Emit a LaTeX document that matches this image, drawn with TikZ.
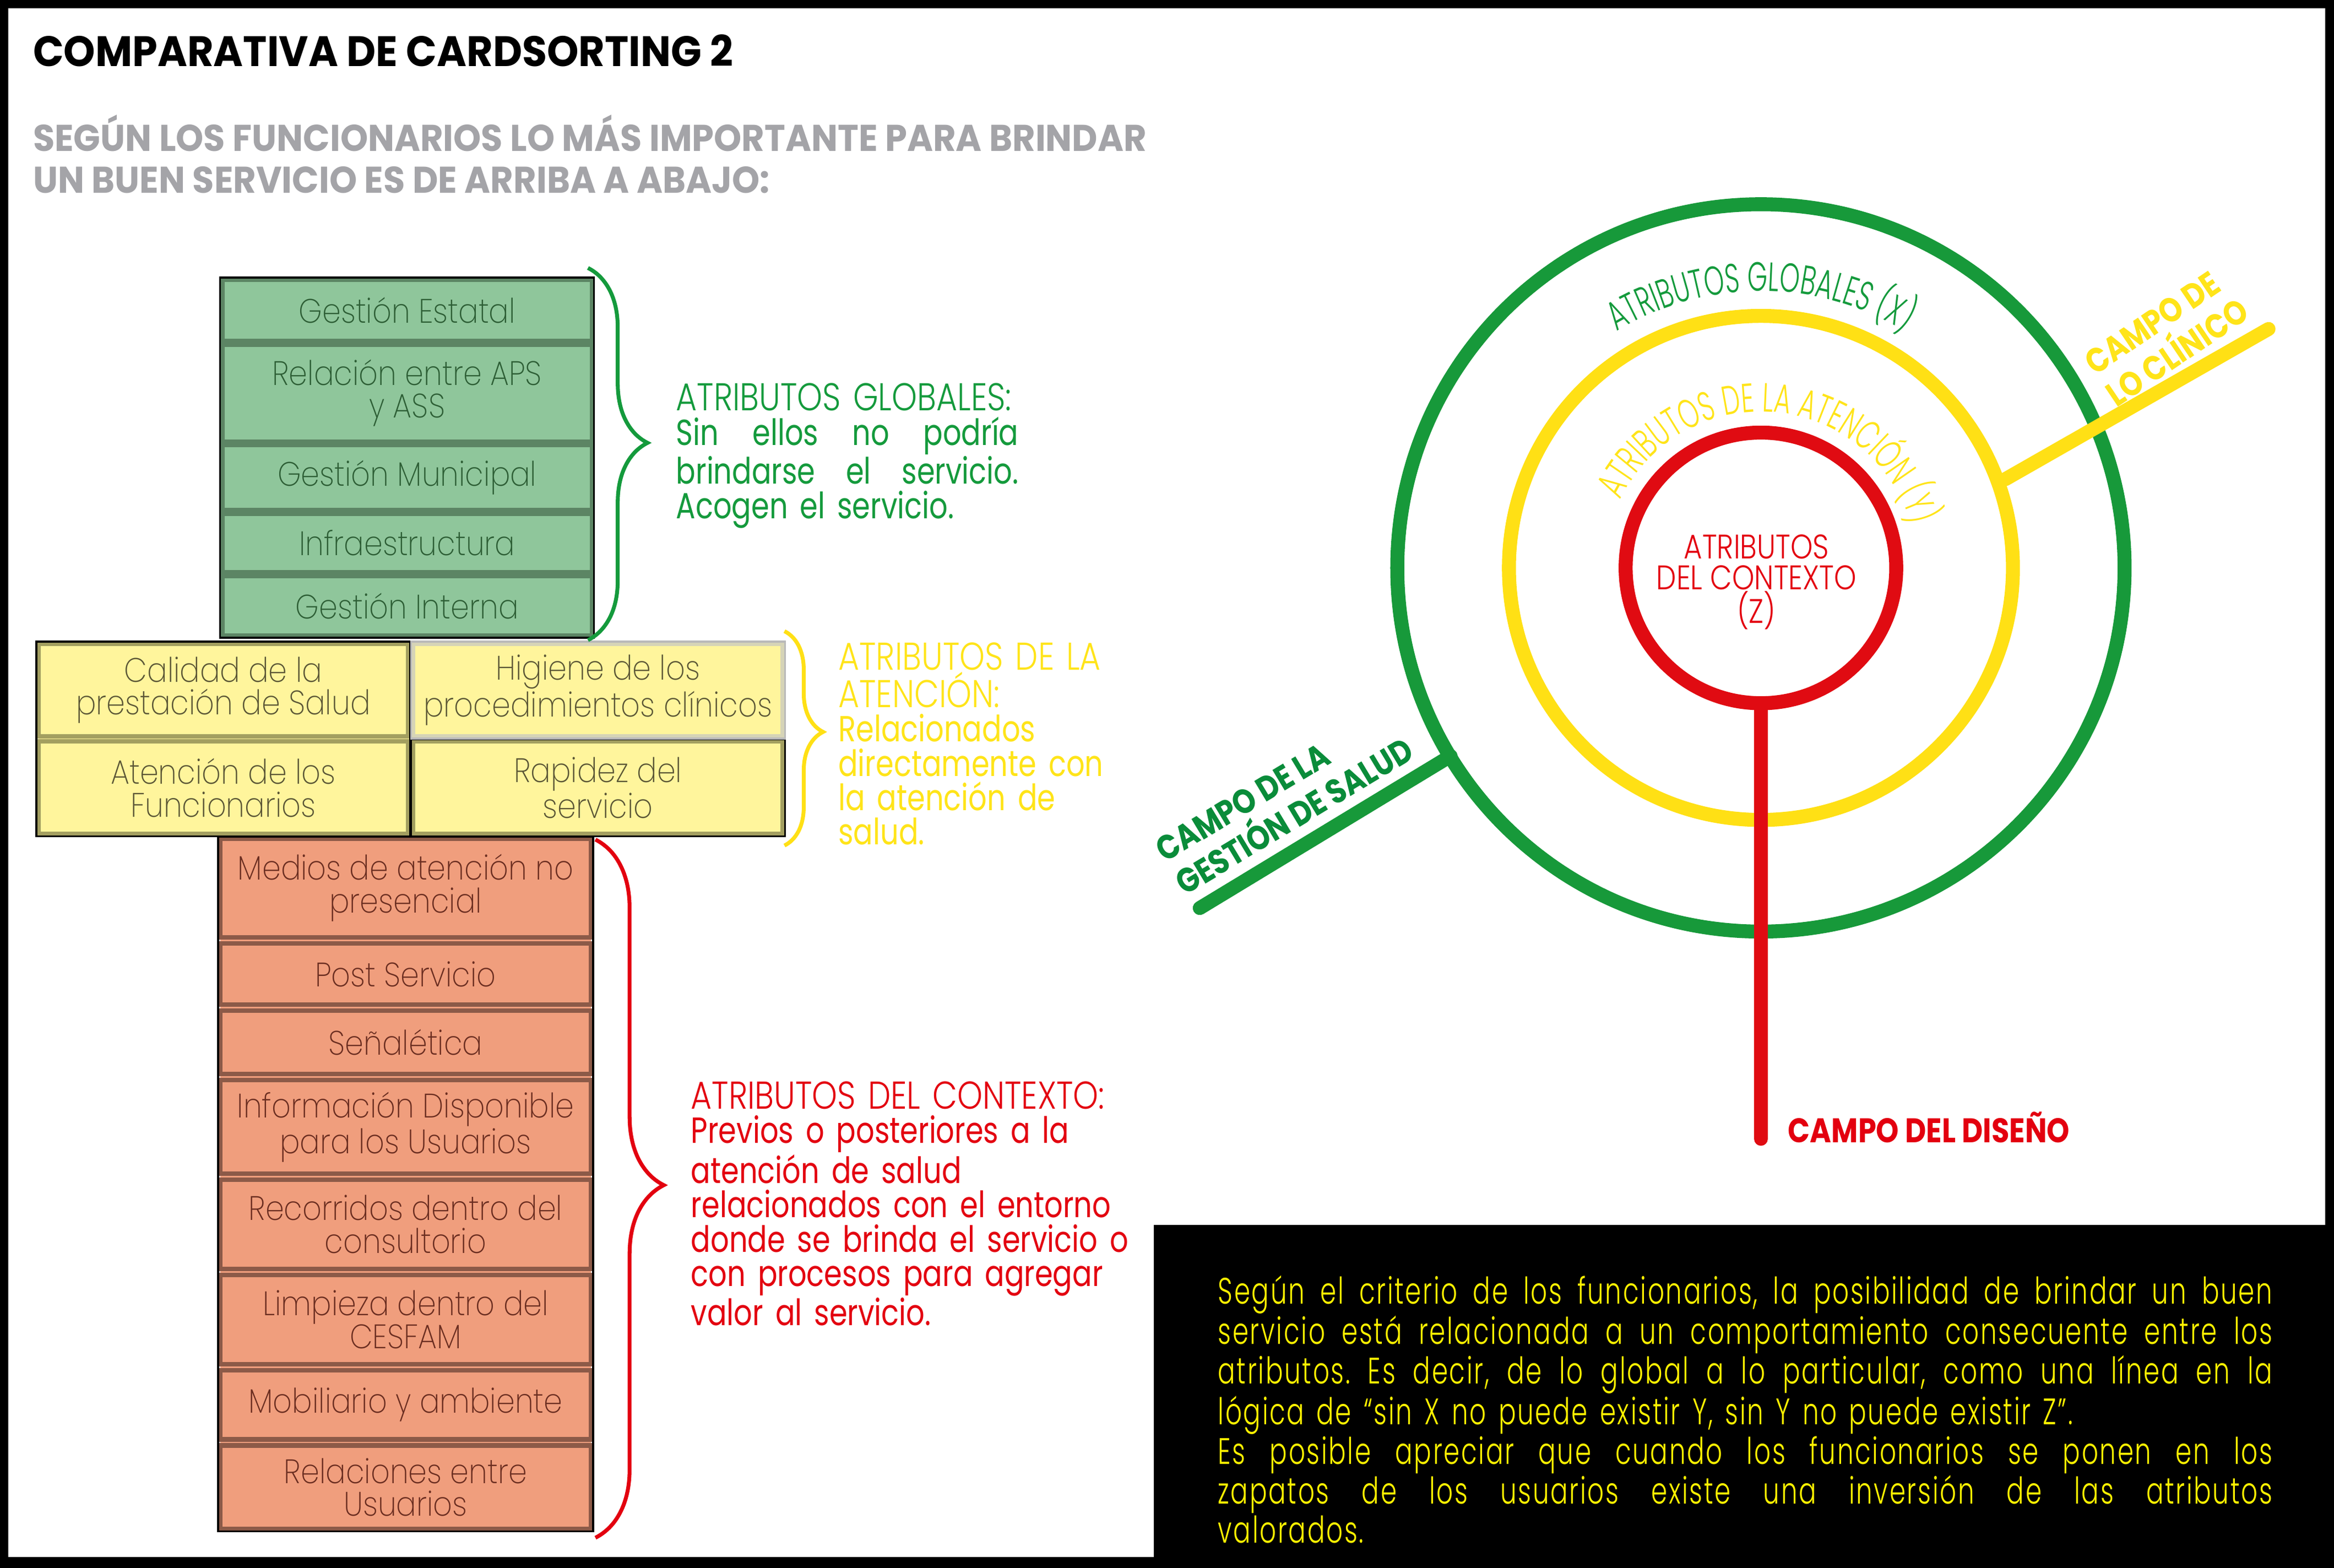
\documentclass[tikz,border=0pt]{standalone}
\usepackage{fontspec}
\setmainfont{Poppins}
\newfontfamily\boxfont{Poppins ExtraLight}[FakeStretch=0.88]
\newfontfamily\headfont{Poppins Light}[FakeStretch=0.83]
\newfontfamily\arcfont{Poppins Light}[FakeStretch=0.63]
\newfontfamily\notefont{Poppins Light}[FakeStretch=0.70, LetterSpace=4.0]
\newfontfamily\bodyfont{Poppins}[FakeStretch=0.8]
\newfontfamily\titlefont{Poppins Bold}[FakeStretch=0.945]
\newfontfamily\campofont{Poppins Bold}[FakeStretch=0.85]
\usepackage{tikz}
\usetikzlibrary{positioning, calc, backgrounds, decorations.pathreplacing, decorations.text}
\definecolor{SubGray}{HTML}{A4A4A8}
\definecolor{GreenFill}{HTML}{8FC69B}
\definecolor{GreenEdge}{HTML}{5C8564}
\definecolor{GreenInk}{HTML}{2D5E35}
\definecolor{YellowFill}{HTML}{FFF59C}
\definecolor{YellowEdge}{HTML}{A39F60}
\definecolor{YellowInk}{HTML}{5A5535}
\definecolor{RedFill}{HTML}{F09E7D}
\definecolor{RedEdge}{HTML}{8C5A48}
\definecolor{RedInk}{HTML}{6A2D20}
\definecolor{RingGreen}{HTML}{17993A}
\definecolor{RingYellow}{HTML}{FFE015}
\definecolor{RingRed}{HTML}{E00B12}
\definecolor{GreenText}{HTML}{149A3C}
\definecolor{GreenDark}{HTML}{0A8C3A}
\definecolor{YellowText}{HTML}{FFE419}
\definecolor{RedText}{HTML}{E3000F}
\definecolor{NoteYellow}{HTML}{FFF200}
% a line spread to the given width
\newcommand{\fullline}[2]{\makebox[#1][s]{\spaceskip=0pt\xspaceskip=0pt #2}}
\frenchspacing

\begin{document}
\begin{tikzpicture}[x=0.027cm, y=-0.027cm,
    card/.style={line width=2.3pt, align=center, inner sep=2pt, outer sep=0pt,
      font=\boxfont\fontsize{17.5}{17}\selectfont},
    gbox/.style={card, draw=GreenEdge, fill=GreenFill, text=GreenInk,
      minimum width=6.70cm},
    ybox/.style={card, draw=YellowEdge, fill=YellowFill, text=YellowInk,
      minimum width=6.70cm, minimum height=1.68cm},
    rbox/.style={card, draw=RedEdge, fill=RedFill, text=RedInk,
      minimum width=6.72cm},
    outline/.style={draw=black, line width=1pt},
    curly/.style={decorate, line width=2pt},
    ring/.style={draw=#1, line width=7.2pt},
    spoke/.style={draw=#1, line width=7.2pt, line cap=round},
    block/.style={anchor=base west, inner sep=0pt, align=left,
      font=\bodyfont\fontsize{18.7}{17.7}\selectfont},
    campo/.style={inner sep=0pt, align=left,
      font=\campofont\fontsize{17.6}{20}\selectfont}
  ]
    \useasboundingbox (0,0) rectangle (1568,1053.3);

    % Title
    \node[anchor=base west, inner sep=0pt,
          font=\titlefont\fontsize{22}{26}\selectfont] (title) at (22,44.5)
      {COMPARATIVA DE CARDSORTING 2};
    \node[anchor=base west, inner sep=0pt, align=left, text=SubGray,
          font=\titlefont\fontsize{19.2}{21.5}\selectfont] (subtitle) at (22,129.5)
      {SEGÚN LOS FUNCIONARIOS LO MÁS IMPORTANTE PARA BRINDAR\\
       UN BUEN SERVICIO ES DE ARRIBA A ABAJO:};

    % Global attributes
    \node[gbox, minimum height=1.107cm, anchor=north] (estatal) at (273.5,188)
      {Gestión Estatal};
    \node[gbox, minimum height=1.760cm, below=0.065cm of estatal] (aps)
      {Relación entre APS\\y ASS};
    \node[gbox, minimum height=1.177cm, below=0.065cm of aps] (municipal)
      {Gestión Municipal};
    \node[gbox, minimum height=1.067cm, below=0.065cm of municipal] (infra)
      {Infraestructura};
    \node[gbox, minimum height=1.080cm, below=0.065cm of infra] (interna)
      {Gestión Interna};

    % Attention attributes
    \node[ybox] (calidad) at (150,463.6) {Calidad de la\\prestación de Salud};
    \node[ybox, draw=YellowEdge!45, right=0.095cm of calidad] (higiene)
      {Higiene de los\\procedimientos clínicos};
    \node[ybox, below=0.09cm of calidad] (atencion) {Atención de los\\Funcionarios};
    \node[ybox, below=0.09cm of higiene] (rapidez) {Rapidez del\\servicio};

    % Context attributes
    \node[rbox, minimum height=1.785cm, anchor=north] (medios) at (272.5,563.5)
      {Medios de atención no\\presencial};
    \node[rbox, minimum height=1.112cm, below=0.11cm of medios] (post)
      {Post Servicio};
    \node[rbox, minimum height=1.150cm, below=0.11cm of post] (senal)
      {Señalética};
    \node[rbox, minimum height=1.693cm, below=0.11cm of senal] (info)
      {Información Disponible\\para los Usuarios};
    \node[rbox, minimum height=1.620cm, below=0.11cm of info] (recorridos)
      {Recorridos dentro del\\consultorio};
    \node[rbox, minimum height=1.620cm, below=0.11cm of recorridos] (limpieza)
      {Limpieza dentro del\\CESFAM};
    \node[rbox, minimum height=1.250cm, below=0.11cm of limpieza] (mobiliario)
      {Mobiliario y ambiente};
    \node[rbox, minimum height=1.517cm, below=0.11cm of mobiliario] (relaciones)
      {Relaciones entre\\Usuarios};

    % Outlines
    \draw[outline] ([shift={(-1.5,-1.5)}]estatal.north west)
      rectangle ([shift={(1.5,1.5)}]interna.south east);
    \draw[outline] ([shift={(-1.5,-1.5)}]calidad.north west)
      rectangle ([shift={(1.5,1.5)}]atencion.south east);
    \draw[outline] ([shift={(-1.5,-1.5)}]rapidez.north west)
      rectangle ([shift={(1.5,1.5)}]rapidez.south east);
    \draw[draw=gray!55, line width=1pt] ([shift={(-1.5,-1.5)}]higiene.north west)
      rectangle ([shift={(1.5,1.5)}]higiene.south east);
    \draw[outline] ([shift={(-1.5,-1.5)}]medios.north west)
      rectangle ([shift={(1.5,1.5)}]relaciones.south east);

    % Braces
    \draw[curly, GreenText, decoration={brace, amplitude=1.08cm, aspect=0.47}]
      (395,180) -- (395,430);
    \draw[curly, RingYellow, decoration={brace, amplitude=0.70cm, aspect=0.47}]
      (527,424) -- (527,568);
    \draw[curly, RedText, decoration={brace, amplitude=1.24cm, aspect=0.495}]
      (400,564) -- (400,1033);

    % Brace texts
    \node[block, text=GreenText, text width=6.21cm] (globales) at (454,276)
      {{\headfont\fontsize{20}{17.7}\selectfont ATRIBUTOS GLOBALES:}\\
       \fullline{6.21cm}{Sin ellos no podría}\\
       \fullline{6.21cm}{brindarse el servicio.}\\
       Acogen el servicio.};
    \node[block, text=YellowText, text width=5.6cm] (atencion txt) at (563,450)
      {{\headfont\fontsize{20}{17.7}\selectfont ATRIBUTOS DE LA\\ATENCIÓN:}\\
       Relacionados\\directamente con\\la atención de\\salud.};
    \node[block, text=RedText, text width=8.9cm] (contexto txt) at (464,745)
      {{\headfont\fontsize{20}{17.7}\selectfont ATRIBUTOS DEL CONTEXTO:}\\
       Previos o posteriores a la\\atención de salud\\relacionados con el entorno\\
       donde se brinda el servicio o\\con procesos para agregar\\valor al servicio.};

    % Rings
    \coordinate (ctr) at (1183,381.5);
    \draw[ring=RingGreen] (ctr) circle[radius=244.3];
    \draw[ring=RingYellow] (ctr) circle[radius=169.3];
    \draw[ring=RingRed] (ctr) circle[radius=90.9];

    % Ring labels
    \path[decorate, decoration={text along path, text align=center,
        text={|\arcfont\fontsize{21}{21}\selectfont\color{GreenText}|ATRIBUTOS GLOBALES (X)}}]
      ($(ctr)+(-150:186)$) arc[start angle=-150, end angle=-30, radius=186];
    \path[decorate, decoration={text along path, text align=center,
        text={|\arcfont\fontsize{21}{21}\selectfont\color{YellowText}|ATRIBUTOS DE LA ATENCIÓN (Y)}}]
      ($(ctr)+(-175:105)$) arc[start angle=-175, end angle=5, radius=105];
    \node[inner sep=0pt, align=center, text=RedText,
          font=\headfont\fontsize{17.6}{15.9}\selectfont] (contexto) at (1180,391)
      {ATRIBUTOS\\DEL CONTEXTO\\(Z)};

    % Spokes
    \coordinate (diseno end) at (1183,765);
    \coordinate (gestion end) at (806,610);
    \coordinate (clinico start) at (1347,322);
    \coordinate (clinico end) at (1524,221);
    \draw[spoke=RingRed] ($(ctr)+(0,91)$) -- (diseno end);
    \draw[spoke=RingGreen] ($(ctr)!0.553!(gestion end)$) -- (gestion end);
    \draw[spoke=RingYellow] (clinico start) -- (clinico end);

    % Field labels
    \node[campo, text=RedText, anchor=base west] (diseno) at (1201,767.7)
      {CAMPO DEL DISEÑO};
    \node[campo, text=YellowText, rotate=34, anchor=west] (clinico) at (1410,256.7)
      {CAMPO DE\\LO CLÍNICO};
    \node[campo, text=GreenDark, rotate=31, anchor=west] (gestion) at (785,584)
      {CAMPO DE LA\\GESTIÓN DE SALUD};

    % Note
    \node[anchor=base west, inner sep=0pt, text=NoteYellow, text width=19.12cm,
          align=left, font=\notefont\fontsize{19}{17.7}\selectfont] (criterio) at (818,876)
      {\fullline{19.12cm}{Según el criterio de los funcionarios, la posibilidad de brindar un buen}\\
       \fullline{19.12cm}{servicio está relacionada a un comportamiento consecuente entre los}\\
       \fullline{19.12cm}{atributos. Es decir, de lo global a lo particular, como una línea en la}\\
       lógica de “sin X no puede existir Y, sin Y no puede existir Z”.\\
       \fullline{19.12cm}{Es posible apreciar que cuando los funcionarios se ponen en los}\\
       \fullline{19.12cm}{zapatos de los usuarios existe una inversión de las atributos}\\
       valorados.};

    % Frame and column backgrounds
    \begin{scope}[on background layer]
      \fill[black] (0,0) rectangle (1568,1053.3);
      \fill[white] (5.5,5.7) rectangle (1562,1046);
      \fill[black] (775,823) rectangle (1568,1053.3);
      \fill[GreenFill] (estatal.north west) rectangle (interna.south east);
      \fill[YellowFill] (calidad.north west) rectangle (rapidez.south east);
      \fill[RedFill] (medios.north west) rectangle (relaciones.south east);
    \end{scope}
  \end{tikzpicture}
\end{document}
